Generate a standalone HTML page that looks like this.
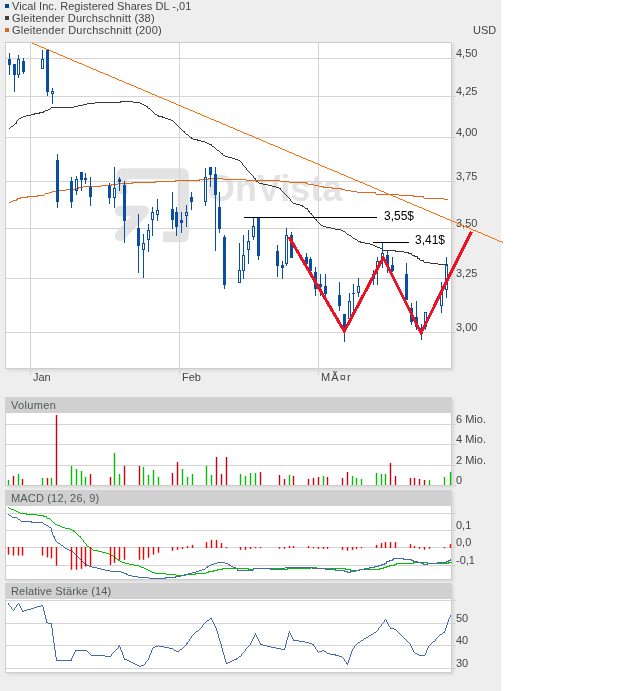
<!DOCTYPE html><html><head><meta charset="utf-8"><style>
html,body{margin:0;padding:0;background:#fff;}
body{width:637px;height:691px;position:relative;overflow:hidden;font-family:"Liberation Sans",sans-serif;}
svg text{font-family:"Liberation Sans",sans-serif;}
</style></head><body>
<svg width="637" height="691" viewBox="0 0 637 691" style="position:absolute;left:0;top:0">
<defs><filter id="sh" x="-5%" y="-5%" width="115%" height="120%"><feGaussianBlur stdDeviation="1.5"/></filter></defs>
<rect x="0" y="0" width="501" height="691" fill="#eeeeee"/>
<g opacity="0.999">
<rect x="5" y="4" width="4" height="4" fill="#0047a0"/>
<rect x="5" y="16" width="4" height="4" fill="#404040"/>
<rect x="5" y="28" width="4" height="4" fill="#e0671a"/>
<g font-size="11" fill="#444">
<text x="12" y="10" letter-spacing="0.06">Vical Inc. Registered Shares DL -,01</text>
<text x="12" y="22" letter-spacing="0.185">Gleitender Durchschnitt (38)</text>
<text x="12" y="34" letter-spacing="0.214">Gleitender Durchschnitt (200)</text>
<text x="473" y="34">USD</text>
</g>
<rect x="7" y="44" width="447" height="327" fill="#000" opacity="0.085" filter="url(#sh)"/>
<rect x="5.5" y="42.5" width="446" height="326" fill="#fff" stroke="#cccccc" stroke-width="1"/>
<g fill="#e3e3e3">
<path d="M116.3,194.4 L116.3,175.3 Q116.3,168.3 123.3,168.3 L181.8,168.3 Q188.8,168.3 188.8,175.3 L188.8,235.3 Q188.8,242.3 181.8,242.3 L163,242.3 L163,231.4 L177.5,231.4 L177.5,179.3 L127.3,179.3 L127.3,194.4 Z"/>
<polyline points="120.3,211 143.5,211 120.3,235.8" fill="none" stroke="#e3e3e3" stroke-width="11" stroke-linecap="round" stroke-linejoin="round"/>
<text x="207" y="201" font-size="36" font-weight="bold">OnVista</text>
</g>
<g stroke="#d4d4d4" stroke-width="1" shape-rendering="crispEdges">
<line x1="6" y1="58.5" x2="456" y2="58.5"/>
<line x1="6" y1="96.5" x2="456" y2="96.5"/>
<line x1="6" y1="137.5" x2="456" y2="137.5"/>
<line x1="6" y1="181.5" x2="456" y2="181.5"/>
<line x1="6" y1="228.5" x2="456" y2="228.5"/>
<line x1="6" y1="278.5" x2="456" y2="278.5"/>
<line x1="6" y1="332.5" x2="456" y2="332.5"/>
<line x1="30.5" y1="43" x2="30.5" y2="375"/>
<line x1="179.5" y1="43" x2="179.5" y2="375"/>
<line x1="318.5" y1="43" x2="318.5" y2="375"/>
</g>
<g font-size="11" fill="#444">
<text x="456" y="57">4,50</text>
<text x="456" y="95">4,25</text>
<text x="456" y="136">4,00</text>
<text x="456" y="180">3,75</text>
<text x="456" y="227">3,50</text>
<text x="456" y="277">3,25</text>
<text x="456" y="331">3,00</text>
<text x="33" y="381">Jan</text><text x="182" y="381">Feb</text><text x="321" y="381" letter-spacing="1.1">MÃ¤r</text>
</g>
<path d="M120 101h13v1h-13zM95 102h26v1h-26zM133 102h7v1h-7zM87 103h8v1h-8zM140 103h2v1h-2zM83 104h4v1h-4zM142 104h2v1h-2zM78 105h5v1h-5zM144 105h2v1h-2zM74 106h4v1h-4zM146 106h2v1h-2zM51 107h23v1h-23zM147 107h1v1h-1zM50 108h1v1h-1zM148 108h2v1h-2zM48 109h2v1h-2zM150 109h1v1h-1zM45 110h3v1h-3zM151 110h1v1h-1zM43 111h2v1h-2zM152 111h1v1h-1zM39 112h5v1h-5zM153 112h1v1h-1zM34 113h6v1h-6zM154 113h1v1h-1zM31 114h4v1h-4zM155 114h2v1h-2zM26 115h5v1h-5zM157 115h2v1h-2zM23 116h3v1h-3zM158 116h5v1h-5zM21 117h2v1h-2zM162 117h3v1h-3zM19 118h2v1h-2zM165 118h3v1h-3zM18 119h1v1h-1zM168 119h3v1h-3zM17 120h1v1h-1zM171 120h2v1h-2zM16 121h1v1h-1zM173 121h1v1h-1zM16 122h1v1h-1zM174 122h1v1h-1zM15 123h2v1h-2zM175 123h1v1h-1zM14 124h1v1h-1zM176 124h1v1h-1zM13 125h1v1h-1zM177 125h1v1h-1zM11 126h2v1h-2zM178 126h1v1h-1zM10 127h1v1h-1zM179 127h1v1h-1zM9 128h1v1h-1zM180 128h1v1h-1zM181 129h1v1h-1zM182 130h1v1h-1zM183 131h2v1h-2zM184 132h1v1h-1zM185 133h1v1h-1zM186 134h2v1h-2zM188 135h1v1h-1zM189 136h1v1h-1zM190 137h2v1h-2zM191 138h2v1h-2zM193 139h5v1h-5zM197 140h4v1h-4zM201 141h4v1h-4zM205 142h2v1h-2zM207 143h2v1h-2zM209 144h3v1h-3zM211 145h1v1h-1zM212 146h2v1h-2zM214 147h1v1h-1zM215 148h1v1h-1zM216 149h1v1h-1zM217 150h2v1h-2zM219 151h1v1h-1zM220 152h1v1h-1zM221 153h2v1h-2zM222 154h1v1h-1zM223 155h2v1h-2zM225 156h3v1h-3zM228 157h4v1h-4zM232 158h3v1h-3zM235 159h3v1h-3zM238 160h2v1h-2zM240 161h1v1h-1zM241 162h1v1h-1zM242 163h1v1h-1zM242 164h1v1h-1zM243 165h1v1h-1zM244 166h1v1h-1zM245 167h1v1h-1zM246 168h1v1h-1zM246 169h1v1h-1zM247 170h1v1h-1zM248 171h1v1h-1zM249 172h1v1h-1zM250 173h1v1h-1zM251 174h1v1h-1zM252 175h1v1h-1zM253 176h1v1h-1zM253 177h1v1h-1zM254 178h2v1h-2zM255 179h1v1h-1zM256 180h1v1h-1zM256 181h2v1h-2zM258 182h1v1h-1zM259 183h4v1h-4zM263 184h5v1h-5zM268 185h4v1h-4zM272 186h4v1h-4zM276 187h3v1h-3zM279 188h2v1h-2zM280 189h1v1h-1zM281 190h1v1h-1zM282 191h1v1h-1zM283 192h1v1h-1zM284 193h1v1h-1zM285 194h1v1h-1zM286 195h1v1h-1zM287 196h1v1h-1zM288 197h1v1h-1zM289 198h1v1h-1zM290 199h1v1h-1zM290 200h1v1h-1zM291 201h1v1h-1zM292 202h1v1h-1zM293 203h3v1h-3zM296 204h4v1h-4zM300 205h3v1h-3zM302 206h2v1h-2zM304 207h1v1h-1zM305 208h3v1h-3zM307 209h1v1h-1zM308 210h1v1h-1zM308 211h2v1h-2zM309 212h1v1h-1zM310 213h2v1h-2zM311 214h1v1h-1zM312 215h1v1h-1zM313 216h1v1h-1zM314 217h1v1h-1zM314 218h1v1h-1zM315 219h2v1h-2zM316 220h1v1h-1zM317 221h1v1h-1zM318 222h1v1h-1zM319 223h1v1h-1zM320 224h1v1h-1zM321 225h2v1h-2zM323 226h3v1h-3zM326 227h5v1h-5zM331 228h4v1h-4zM335 229h6v1h-6zM341 230h2v1h-2zM343 231h2v1h-2zM345 232h1v1h-1zM346 233h1v1h-1zM347 234h2v1h-2zM349 235h2v1h-2zM351 236h1v1h-1zM352 237h1v1h-1zM353 238h2v1h-2zM355 239h2v1h-2zM357 240h1v1h-1zM358 241h3v1h-3zM360 242h5v1h-5zM365 243h5v1h-5zM370 244h3v1h-3zM373 245h2v1h-2zM375 246h2v1h-2zM377 247h3v1h-3zM380 248h2v1h-2zM382 249h1v1h-1zM383 250h13v1h-13zM395 251h9v1h-9zM404 252h5v1h-5zM408 253h4v1h-4zM411 254h1v1h-1zM412 255h3v1h-3zM414 256h4v1h-4zM417 257h1v1h-1zM417 258h3v1h-3zM419 259h1v1h-1zM420 260h4v1h-4zM423 261h1v1h-1zM424 262h6v1h-6zM430 263h8v1h-8zM438 264h7v1h-7zM445 265h3v1h-3z" fill="#383838"/>
<path d="M208 178h15v1h-15zM199 179h10v1h-10zM223 179h23v1h-23zM175 180h25v1h-25zM246 180h34v1h-34zM155 181h21v1h-21zM280 181h9v1h-9zM132 182h24v1h-24zM289 182h18v1h-18zM118 183h15v1h-15zM306 183h2v1h-2zM111 184h7v1h-7zM308 184h6v1h-6zM101 185h11v1h-11zM314 185h5v1h-5zM83 186h18v1h-18zM319 186h5v1h-5zM78 187h5v1h-5zM323 187h10v1h-10zM76 188h3v1h-3zM332 188h10v1h-10zM66 189h11v1h-11zM341 189h4v1h-4zM56 190h10v1h-10zM345 190h6v1h-6zM52 191h4v1h-4zM351 191h6v1h-6zM49 192h3v1h-3zM357 192h19v1h-19zM45 193h4v1h-4zM375 193h1v1h-1zM44 194h1v1h-1zM376 194h23v1h-23zM37 195h7v1h-7zM399 195h15v1h-15zM27 196h11v1h-11zM413 196h11v1h-11zM20 197h8v1h-8zM423 197h1v1h-1zM17 198h4v1h-4zM424 198h20v1h-20zM16 199h2v1h-2zM444 199h4v1h-4zM13 200h4v1h-4zM11 201h2v1h-2zM9 202h2v1h-2z" fill="#dd6a1c"/>
<g shape-rendering="crispEdges">
<path d="M9 53h1v6h-1zM9 65h1v10h-1zM8 59h3v6h-3zM14 75h1v17h-1zM13 64h3v11h-3zM18 55h1v4h-1zM18 75h1v3h-1zM17 59h3v1h-3zM17 74h3v1h-3zM17 60h1v14h-1zM19 60h1v14h-1zM23 58h1v3h-1zM23 72h1v2h-1zM22 61h3v11h-3zM42 50h1v9h-1zM41 59h3v1h-3zM41 68h3v1h-3zM41 60h1v8h-1zM43 60h1v8h-1zM47 92h1v4h-1zM46 50h3v42h-3zM52 88h1v3h-1zM52 94h1v10h-1zM51 91h3v1h-3zM51 93h3v1h-3zM51 92h1v1h-1zM53 92h1v1h-1zM57 154h1v6h-1zM57 202h1v6h-1zM56 160h3v42h-3zM71 177h1v4h-1zM71 202h1v6h-1zM70 181h3v21h-3zM76 176h1v3h-1zM76 191h1v4h-1zM75 179h3v1h-3zM75 190h3v1h-3zM75 180h1v10h-1zM77 180h1v10h-1zM81 180h1v11h-1zM80 172h3v8h-3zM85 173h1v5h-1zM85 180h1v4h-1zM84 178h3v2h-3zM90 177h1v10h-1zM90 197h1v9h-1zM89 187h3v10h-3zM109 183h1v3h-1zM109 198h1v6h-1zM108 186h3v12h-3zM114 167h1v21h-1zM114 198h1v10h-1zM113 188h3v1h-3zM113 197h3v1h-3zM113 189h1v8h-1zM115 189h1v8h-1zM119 177h1v2h-1zM119 182h1v9h-1zM118 179h3v3h-3zM124 181h1v4h-1zM124 221h1v22h-1zM123 185h3v36h-3zM138 214h1v14h-1zM138 246h1v27h-1zM137 228h3v18h-3zM143 234h1v9h-1zM143 250h1v28h-1zM142 243h3v1h-3zM142 249h3v1h-3zM142 244h1v5h-1zM144 244h1v5h-1zM148 224h1v6h-1zM148 240h1v12h-1zM147 230h3v1h-3zM147 239h3v1h-3zM147 231h1v8h-1zM149 231h1v8h-1zM152 207h1v5h-1zM152 220h1v16h-1zM151 212h3v1h-3zM151 219h3v1h-3zM151 213h1v6h-1zM153 213h1v6h-1zM157 199h1v11h-1zM157 215h1v6h-1zM156 210h3v1h-3zM156 214h3v1h-3zM156 211h1v3h-1zM158 211h1v3h-1zM172 192h1v17h-1zM172 220h1v9h-1zM171 209h3v11h-3zM176 207h1v5h-1zM176 227h1v9h-1zM175 212h3v15h-3zM181 212h1v8h-1zM181 223h1v10h-1zM180 220h3v3h-3zM186 205h1v7h-1zM186 216h1v11h-1zM185 212h3v1h-3zM185 215h3v1h-3zM185 213h1v2h-1zM187 213h1v2h-1zM191 192h1v5h-1zM191 202h1v8h-1zM190 197h3v5h-3zM205 168h1v9h-1zM205 202h1v4h-1zM204 177h3v1h-3zM204 201h3v1h-3zM204 178h1v23h-1zM206 178h1v23h-1zM210 175h1v12h-1zM209 167h3v8h-3zM215 167h1v7h-1zM215 195h1v56h-1zM214 174h3v21h-3zM219 192h1v15h-1zM219 229h1v4h-1zM218 207h3v22h-3zM224 235h1v2h-1zM224 285h1v4h-1zM223 237h3v48h-3zM239 243h1v27h-1zM238 270h3v1h-3zM238 282h3v1h-3zM238 271h1v11h-1zM240 271h1v11h-1zM243 235h1v20h-1zM243 271h1v8h-1zM242 255h3v1h-3zM242 270h3v1h-3zM242 256h1v14h-1zM244 256h1v14h-1zM248 230h1v11h-1zM248 250h1v14h-1zM247 241h3v1h-3zM247 249h3v1h-3zM247 242h1v7h-1zM249 242h1v7h-1zM253 218h1v8h-1zM253 237h1v3h-1zM252 226h3v1h-3zM252 236h3v1h-3zM252 227h1v9h-1zM254 227h1v9h-1zM258 256h1v4h-1zM257 218h3v38h-3zM277 245h1v6h-1zM277 266h1v11h-1zM276 251h3v15h-3zM282 261h1v4h-1zM282 268h1v11h-1zM281 265h3v3h-3zM286 228h1v7h-1zM286 264h1v2h-1zM285 235h3v1h-3zM285 263h3v1h-3zM285 236h1v27h-1zM287 236h1v27h-1zM291 232h1v3h-1zM290 235h3v23h-3zM306 253h1v4h-1zM305 257h3v7h-3zM310 257h1v2h-1zM310 271h1v1h-1zM309 259h3v12h-3zM315 267h1v5h-1zM315 289h1v7h-1zM314 272h3v17h-3zM320 274h1v10h-1zM320 287h1v9h-1zM319 284h3v3h-3zM325 274h1v12h-1zM325 294h1v6h-1zM324 286h3v8h-3zM339 282h1v13h-1zM339 306h1v5h-1zM338 295h3v11h-3zM344 328h1v14h-1zM343 314h3v14h-3zM349 293h1v8h-1zM349 319h1v1h-1zM348 301h3v1h-3zM348 318h3v1h-3zM348 302h1v16h-1zM350 302h1v16h-1zM353 284h1v9h-1zM353 294h1v17h-1zM352 293h3v1h-3zM358 278h1v8h-1zM358 293h1v4h-1zM357 286h3v1h-3zM357 292h3v1h-3zM357 287h1v5h-1zM359 287h1v5h-1zM373 270h1v4h-1zM373 279h1v6h-1zM372 274h3v1h-3zM372 278h3v1h-3zM372 275h1v3h-1zM374 275h1v3h-1zM377 257h1v4h-1zM377 267h1v18h-1zM376 261h3v1h-3zM376 266h3v1h-3zM376 262h1v4h-1zM378 262h1v4h-1zM382 243h1v10h-1zM382 259h1v9h-1zM381 253h3v1h-3zM381 258h3v1h-3zM381 254h1v4h-1zM383 254h1v4h-1zM387 251h1v4h-1zM387 267h1v6h-1zM386 255h3v12h-3zM392 257h1v8h-1zM392 271h1v1h-1zM391 265h3v6h-3zM406 263h1v11h-1zM405 274h3v26h-3zM411 303h1v5h-1zM411 322h1v3h-1zM410 308h3v14h-3zM416 301h1v16h-1zM416 327h1v3h-1zM415 317h3v10h-3zM421 324h1v4h-1zM421 334h1v6h-1zM420 328h3v6h-3zM425 327h1v3h-1zM424 312h3v1h-3zM424 326h3v1h-3zM424 313h1v13h-1zM426 313h1v13h-1zM441 282h1v9h-1zM441 306h1v7h-1zM440 291h3v1h-3zM440 305h3v1h-3zM440 292h1v13h-1zM442 292h1v13h-1zM446 257h1v7h-1zM446 290h1v8h-1zM445 264h3v1h-3zM445 289h3v1h-3zM445 265h1v24h-1zM447 265h1v24h-1z" fill="#0a4ea2"/>
</g>
<line x1="244" y1="217.5" x2="377" y2="217.5" stroke="#000" stroke-width="1"/>
<line x1="373" y1="242.5" x2="409" y2="242.5" stroke="#000" stroke-width="1"/>
<g font-size="12" fill="#000"><text x="384" y="220">3,55$</text><text x="415" y="244">3,41$</text></g>
<path d="M32 43h2v1h-2zM34 44h3v1h-3zM37 45h2v1h-2zM39 46h2v1h-2zM41 47h3v1h-3zM44 48h2v1h-2zM46 49h3v1h-3zM49 50h2v1h-2zM51 51h2v1h-2zM53 52h3v1h-3zM56 53h2v1h-2zM58 54h2v1h-2zM60 55h3v1h-3zM63 56h2v1h-2zM65 57h2v1h-2zM67 58h3v1h-3zM70 59h2v1h-2zM72 60h2v1h-2zM74 61h3v1h-3zM77 62h2v1h-2zM79 63h3v1h-3zM82 64h2v1h-2zM84 65h2v1h-2zM86 66h3v1h-3zM89 67h2v1h-2zM91 68h2v1h-2zM93 69h3v1h-3zM96 70h2v1h-2zM98 71h2v1h-2zM100 72h3v1h-3zM103 73h2v1h-2zM105 74h3v1h-3zM108 75h2v1h-2zM110 76h2v1h-2zM112 77h3v1h-3zM115 78h2v1h-2zM117 79h2v1h-2zM119 80h3v1h-3zM122 81h2v1h-2zM124 82h2v1h-2zM126 83h3v1h-3zM129 84h2v1h-2zM131 85h3v1h-3zM134 86h2v1h-2zM136 87h2v1h-2zM138 88h3v1h-3zM141 89h2v1h-2zM143 90h2v1h-2zM145 91h3v1h-3zM148 92h2v1h-2zM150 93h2v1h-2zM152 94h3v1h-3zM155 95h2v1h-2zM157 96h2v1h-2zM159 97h3v1h-3zM162 98h2v1h-2zM164 99h3v1h-3zM167 100h2v1h-2zM169 101h2v1h-2zM171 102h3v1h-3zM174 103h2v1h-2zM176 104h2v1h-2zM178 105h3v1h-3zM181 106h2v1h-2zM183 107h2v1h-2zM185 108h3v1h-3zM188 109h2v1h-2zM190 110h3v1h-3zM193 111h2v1h-2zM195 112h2v1h-2zM197 113h3v1h-3zM200 114h2v1h-2zM202 115h2v1h-2zM204 116h3v1h-3zM207 117h2v1h-2zM209 118h2v1h-2zM211 119h3v1h-3zM214 120h2v1h-2zM216 121h3v1h-3zM219 122h2v1h-2zM221 123h2v1h-2zM223 124h3v1h-3zM226 125h2v1h-2zM228 126h2v1h-2zM230 127h3v1h-3zM233 128h2v1h-2zM235 129h2v1h-2zM237 130h3v1h-3zM240 131h2v1h-2zM242 132h2v1h-2zM244 133h3v1h-3zM247 134h2v1h-2zM249 135h3v1h-3zM252 136h2v1h-2zM254 137h2v1h-2zM256 138h3v1h-3zM259 139h2v1h-2zM261 140h2v1h-2zM263 141h3v1h-3zM266 142h2v1h-2zM268 143h2v1h-2zM270 144h3v1h-3zM273 145h2v1h-2zM275 146h3v1h-3zM278 147h2v1h-2zM280 148h2v1h-2zM282 149h3v1h-3zM285 150h2v1h-2zM287 151h2v1h-2zM289 152h3v1h-3zM292 153h2v1h-2zM294 154h2v1h-2zM296 155h3v1h-3zM299 156h2v1h-2zM301 157h2v1h-2zM303 158h3v1h-3zM306 159h2v1h-2zM308 160h3v1h-3zM311 161h2v1h-2zM313 162h2v1h-2zM315 163h3v1h-3zM318 164h2v1h-2zM320 165h2v1h-2zM322 166h3v1h-3zM325 167h2v1h-2zM327 168h2v1h-2zM329 169h3v1h-3zM332 170h2v1h-2zM334 171h3v1h-3zM337 172h2v1h-2zM339 173h2v1h-2zM341 174h3v1h-3zM344 175h2v1h-2zM346 176h2v1h-2zM348 177h3v1h-3zM351 178h2v1h-2zM353 179h2v1h-2zM355 180h3v1h-3zM358 181h2v1h-2zM360 182h3v1h-3zM363 183h2v1h-2zM365 184h2v1h-2zM367 185h3v1h-3zM370 186h2v1h-2zM372 187h2v1h-2zM374 188h3v1h-3zM377 189h2v1h-2zM379 190h2v1h-2zM381 191h3v1h-3zM384 192h2v1h-2zM386 193h2v1h-2zM388 194h3v1h-3zM391 195h2v1h-2zM393 196h3v1h-3zM396 197h2v1h-2zM398 198h2v1h-2zM400 199h3v1h-3zM403 200h2v1h-2zM405 201h2v1h-2zM407 202h3v1h-3zM410 203h2v1h-2zM412 204h2v1h-2zM414 205h3v1h-3zM417 206h2v1h-2zM419 207h3v1h-3zM422 208h2v1h-2zM424 209h2v1h-2zM426 210h3v1h-3zM429 211h2v1h-2zM431 212h2v1h-2zM433 213h3v1h-3zM436 214h2v1h-2zM438 215h2v1h-2zM440 216h3v1h-3zM443 217h2v1h-2zM445 218h2v1h-2zM447 219h3v1h-3zM450 220h2v1h-2zM452 221h3v1h-3zM455 222h2v1h-2zM457 223h2v1h-2zM459 224h3v1h-3zM462 225h2v1h-2zM464 226h2v1h-2zM466 227h3v1h-3zM469 228h2v1h-2zM471 229h2v1h-2zM473 230h3v1h-3zM476 231h2v1h-2zM478 232h3v1h-3zM481 233h2v1h-2zM483 234h2v1h-2zM485 235h3v1h-3zM488 236h2v1h-2zM490 237h2v1h-2zM492 238h3v1h-3zM495 239h2v1h-2zM497 240h2v1h-2zM499 241h3v1h-3zM502 242h1v1h-1z" fill="#ff6c0a"/>
<polyline points="289,237 344.3,331.2 383.3,257.5 421,333 471.3,231.9" fill="none" stroke="#ee1122" stroke-width="3" stroke-linejoin="miter" shape-rendering="crispEdges"/>
<rect x="7" y="399" width="447" height="89" fill="#000" opacity="0.085" filter="url(#sh)"/>
<rect x="5.5" y="412.5" width="446" height="73" fill="#fff" stroke="#cccccc" stroke-width="1"/>
<rect x="5" y="397" width="447" height="16" fill="#d0d0d0"/>
<text x="11" y="409" font-size="11" fill="#505858" letter-spacing="0.33">Volumen</text>
<g stroke="#d4d4d4" stroke-width="1" shape-rendering="crispEdges">
<line x1="6" y1="424.5" x2="456" y2="424.5"/>
<line x1="6" y1="444.5" x2="456" y2="444.5"/>
<line x1="6" y1="465.5" x2="456" y2="465.5"/>
<line x1="452" y1="485.5" x2="456" y2="485.5"/>
</g>
<g font-size="11" fill="#444">
<text x="456" y="423">6 Mio.</text>
<text x="456" y="443">4 Mio.</text>
<text x="456" y="464">2 Mio.</text>
<text x="456" y="484">0</text>
</g>
<rect x="7.8" y="480" width="1.4" height="5" fill="#00c000"/>
<rect x="12.8" y="476" width="1.4" height="9" fill="#c80014"/>
<rect x="17.8" y="474" width="1.4" height="11" fill="#00c000"/>
<rect x="21.8" y="479" width="1.4" height="6" fill="#c80014"/>
<rect x="41.8" y="478" width="1.4" height="7" fill="#00c000"/>
<rect x="46.8" y="478" width="1.4" height="7" fill="#c80014"/>
<rect x="50.8" y="478" width="1.4" height="7" fill="#00c000"/>
<rect x="55.8" y="415" width="1.4" height="70" fill="#c80014"/>
<rect x="70.8" y="466" width="1.4" height="19" fill="#00c000"/>
<rect x="75.8" y="469" width="1.4" height="16" fill="#00c000"/>
<rect x="80.8" y="471" width="1.4" height="14" fill="#00c000"/>
<rect x="84.8" y="477" width="1.4" height="8" fill="#00c000"/>
<rect x="89.8" y="474" width="1.4" height="11" fill="#c80014"/>
<rect x="109.8" y="477" width="1.4" height="8" fill="#c80014"/>
<rect x="113.8" y="453" width="1.4" height="32" fill="#00c000"/>
<rect x="118.8" y="474" width="1.4" height="11" fill="#00c000"/>
<rect x="123.8" y="466" width="1.4" height="19" fill="#c80014"/>
<rect x="138.8" y="466" width="1.4" height="19" fill="#c80014"/>
<rect x="142.8" y="467" width="1.4" height="18" fill="#00c000"/>
<rect x="147.8" y="475" width="1.4" height="10" fill="#00c000"/>
<rect x="152.8" y="470" width="1.4" height="15" fill="#00c000"/>
<rect x="157.8" y="477" width="1.4" height="8" fill="#00c000"/>
<rect x="171.8" y="473" width="1.4" height="12" fill="#c80014"/>
<rect x="176.8" y="462" width="1.4" height="23" fill="#c80014"/>
<rect x="181.8" y="469" width="1.4" height="16" fill="#00c000"/>
<rect x="186.8" y="477" width="1.4" height="8" fill="#00c000"/>
<rect x="191.8" y="474" width="1.4" height="11" fill="#00c000"/>
<rect x="205.8" y="466" width="1.4" height="19" fill="#00c000"/>
<rect x="210.8" y="475" width="1.4" height="10" fill="#00c000"/>
<rect x="215.8" y="457" width="1.4" height="28" fill="#c80014"/>
<rect x="220.8" y="474" width="1.4" height="11" fill="#c80014"/>
<rect x="225.8" y="457" width="1.4" height="28" fill="#c80014"/>
<rect x="239.8" y="474" width="1.4" height="11" fill="#00c000"/>
<rect x="244.8" y="476" width="1.4" height="9" fill="#00c000"/>
<rect x="249.8" y="473" width="1.4" height="12" fill="#00c000"/>
<rect x="254.8" y="473" width="1.4" height="12" fill="#00c000"/>
<rect x="259.8" y="472" width="1.4" height="13" fill="#c80014"/>
<rect x="278.8" y="475" width="1.4" height="10" fill="#c80014"/>
<rect x="283.8" y="479" width="1.4" height="6" fill="#c80014"/>
<rect x="288.8" y="475" width="1.4" height="10" fill="#00c000"/>
<rect x="292.8" y="476" width="1.4" height="9" fill="#c80014"/>
<rect x="307.8" y="479" width="1.4" height="6" fill="#c80014"/>
<rect x="312.8" y="478" width="1.4" height="7" fill="#c80014"/>
<rect x="317.8" y="477" width="1.4" height="8" fill="#c80014"/>
<rect x="322.8" y="476" width="1.4" height="9" fill="#00c000"/>
<rect x="326.8" y="477" width="1.4" height="8" fill="#c80014"/>
<rect x="341.8" y="478" width="1.4" height="7" fill="#c80014"/>
<rect x="346.8" y="472" width="1.4" height="13" fill="#c80014"/>
<rect x="351.8" y="476" width="1.4" height="9" fill="#00c000"/>
<rect x="355.8" y="478" width="1.4" height="7" fill="#00c000"/>
<rect x="360.8" y="479" width="1.4" height="6" fill="#00c000"/>
<rect x="375.8" y="473" width="1.4" height="12" fill="#00c000"/>
<rect x="380.8" y="474" width="1.4" height="11" fill="#00c000"/>
<rect x="384.8" y="474" width="1.4" height="11" fill="#00c000"/>
<rect x="389.8" y="463" width="1.4" height="22" fill="#c80014"/>
<rect x="394.8" y="476" width="1.4" height="9" fill="#c80014"/>
<rect x="409.8" y="478" width="1.4" height="7" fill="#c80014"/>
<rect x="413.8" y="478" width="1.4" height="7" fill="#c80014"/>
<rect x="418.8" y="479" width="1.4" height="6" fill="#c80014"/>
<rect x="423.8" y="480" width="1.4" height="5" fill="#c80014"/>
<rect x="428.8" y="480" width="1.4" height="5" fill="#00c000"/>
<rect x="443.8" y="477" width="1.4" height="8" fill="#00c000"/>
<rect x="449.8" y="472" width="1.4" height="13" fill="#00c000"/>
<rect x="7" y="492" width="447" height="90" fill="#000" opacity="0.085" filter="url(#sh)"/>
<rect x="5.5" y="505.5" width="446" height="74" fill="#fff" stroke="#cccccc" stroke-width="1"/>
<rect x="5" y="490" width="447" height="16" fill="#d0d0d0"/>
<text x="11" y="502" font-size="11" fill="#505858" letter-spacing="0.167">MACD (12, 26, 9)</text>
<g stroke="#d4d4d4" stroke-width="1" shape-rendering="crispEdges">
<line x1="6" y1="513.5" x2="456" y2="513.5"/>
<line x1="6" y1="530.5" x2="456" y2="530.5"/>
<line x1="6" y1="547.5" x2="456" y2="547.5"/>
<line x1="6" y1="565.5" x2="456" y2="565.5"/>
</g>
<g font-size="11" fill="#444">
<text x="456" y="529">0,1</text>
<text x="456" y="546">0,0</text>
<text x="456" y="564">-0,1</text>
</g>
<path d="M8 507h1v1h-1zM9 508h2v1h-2zM11 509h3v1h-3zM14 510h2v1h-2zM16 511h2v1h-2zM18 512h2v1h-2zM20 513h7v1h-7zM26 514h11v1h-11zM37 515h7v1h-7zM43 516h4v1h-4zM46 517h1v1h-1zM47 518h3v1h-3zM50 519h1v1h-1zM51 520h1v1h-1zM52 521h1v1h-1zM53 522h1v1h-1zM54 523h1v1h-1zM55 524h2v1h-2zM57 525h3v1h-3zM60 526h2v1h-2zM62 527h3v1h-3zM65 528h5v1h-5zM70 529h2v1h-2zM72 530h2v1h-2zM73 531h2v1h-2zM75 532h1v1h-1zM76 533h1v1h-1zM77 534h1v1h-1zM78 535h1v1h-1zM79 536h2v1h-2zM80 537h1v1h-1zM81 538h1v1h-1zM82 539h1v1h-1zM83 540h1v1h-1zM83 541h1v1h-1zM84 542h1v1h-1zM85 543h1v1h-1zM86 544h1v1h-1zM86 545h1v1h-1zM87 546h2v1h-2zM89 547h1v1h-1zM90 548h2v1h-2zM92 549h1v1h-1zM93 550h5v1h-5zM98 551h4v1h-4zM102 552h4v1h-4zM106 553h3v1h-3zM109 554h2v1h-2zM111 555h2v1h-2zM113 556h1v1h-1zM114 557h2v1h-2zM115 558h2v1h-2zM117 559h2v1h-2zM118 560h2v1h-2zM120 561h2v1h-2zM122 562h3v1h-3zM413 562h15v1h-15zM448 562h4v1h-4zM125 563h4v1h-4zM396 563h18v1h-18zM427 563h22v1h-22zM129 564h5v1h-5zM394 564h3v1h-3zM134 565h5v1h-5zM389 565h6v1h-6zM139 566h2v1h-2zM386 566h4v1h-4zM141 567h3v1h-3zM310 567h7v1h-7zM383 567h4v1h-4zM144 568h2v1h-2zM222 568h27v1h-27zM253 568h30v1h-30zM287 568h24v1h-24zM316 568h30v1h-30zM379 568h5v1h-5zM146 569h2v1h-2zM217 569h6v1h-6zM248 569h6v1h-6zM282 569h6v1h-6zM345 569h6v1h-6zM359 569h21v1h-21zM148 570h2v1h-2zM213 570h5v1h-5zM350 570h10v1h-10zM150 571h2v1h-2zM208 571h6v1h-6zM152 572h3v1h-3zM206 572h3v1h-3zM155 573h11v1h-11zM195 573h11v1h-11zM166 574h10v1h-10zM186 574h10v1h-10zM176 575h10v1h-10z" fill="#00c000"/>
<path d="M8 514h1v1h-1zM9 515h2v1h-2zM11 516h1v1h-1zM12 517h5v1h-5zM17 518h1v1h-1zM18 519h2v1h-2zM20 520h1v1h-1zM21 521h11v1h-11zM31 522h12v1h-12zM43 523h1v1h-1zM44 524h2v1h-2zM46 525h2v1h-2zM48 526h1v1h-1zM49 527h2v1h-2zM51 528h1v1h-1zM51 529h1v1h-1zM51 530h1v1h-1zM51 531h1v1h-1zM52 532h1v1h-1zM52 533h1v1h-1zM52 534h1v1h-1zM53 535h1v1h-1zM53 536h2v1h-2zM54 537h1v1h-1zM54 538h1v1h-1zM55 539h1v1h-1zM55 540h1v1h-1zM56 541h1v1h-1zM57 542h1v1h-1zM58 543h2v1h-2zM60 544h1v1h-1zM61 545h2v1h-2zM63 546h1v1h-1zM64 547h1v1h-1zM65 548h2v1h-2zM67 549h2v1h-2zM69 550h3v1h-3zM71 551h2v1h-2zM73 552h1v1h-1zM74 553h1v1h-1zM75 554h1v1h-1zM76 555h1v1h-1zM77 556h1v1h-1zM78 557h1v1h-1zM79 558h1v1h-1zM393 558h11v1h-11zM80 559h1v1h-1zM392 559h2v1h-2zM403 559h9v1h-9zM450 559h1v1h-1zM81 560h1v1h-1zM389 560h4v1h-4zM411 560h3v1h-3zM448 560h3v1h-3zM82 561h1v1h-1zM386 561h4v1h-4zM413 561h5v1h-5zM446 561h3v1h-3zM83 562h1v1h-1zM217 562h8v1h-8zM386 562h1v1h-1zM417 562h5v1h-5zM437 562h10v1h-10zM84 563h1v1h-1zM214 563h3v1h-3zM225 563h3v1h-3zM384 563h3v1h-3zM421 563h3v1h-3zM427 563h11v1h-11zM85 564h2v1h-2zM211 564h3v1h-3zM228 564h2v1h-2zM381 564h4v1h-4zM423 564h5v1h-5zM86 565h3v1h-3zM209 565h2v1h-2zM229 565h2v1h-2zM378 565h4v1h-4zM89 566h3v1h-3zM207 566h2v1h-2zM231 566h2v1h-2zM374 566h5v1h-5zM92 567h5v1h-5zM206 567h2v1h-2zM233 567h3v1h-3zM285 567h27v1h-27zM369 567h6v1h-6zM97 568h4v1h-4zM205 568h1v1h-1zM236 568h1v1h-1zM253 568h18v1h-18zM281 568h4v1h-4zM312 568h14v1h-14zM364 568h6v1h-6zM101 569h4v1h-4zM202 569h3v1h-3zM237 569h1v1h-1zM253 569h1v1h-1zM270 569h12v1h-12zM325 569h11v1h-11zM359 569h6v1h-6zM105 570h5v1h-5zM199 570h3v1h-3zM237 570h16v1h-16zM335 570h10v1h-10zM355 570h5v1h-5zM110 571h11v1h-11zM196 571h3v1h-3zM344 571h4v1h-4zM350 571h6v1h-6zM121 572h3v1h-3zM192 572h4v1h-4zM347 572h4v1h-4zM124 573h3v1h-3zM188 573h4v1h-4zM126 574h2v1h-2zM184 574h4v1h-4zM128 575h4v1h-4zM181 575h3v1h-3zM132 576h6v1h-6zM175 576h6v1h-6zM138 577h11v1h-11zM165 577h11v1h-11zM149 578h17v1h-17z" fill="#4669ad"/>
<rect x="7.8" y="547" width="1.4" height="7.6" fill="#f00000"/>
<rect x="12.8" y="547" width="1.4" height="8.6" fill="#f00000"/>
<rect x="17.8" y="547" width="1.4" height="8.6" fill="#f00000"/>
<rect x="21.8" y="547" width="1.4" height="8.6" fill="#f00000"/>
<rect x="41.8" y="547" width="1.4" height="8.6" fill="#f00000"/>
<rect x="46.8" y="547" width="1.4" height="10.4" fill="#f00000"/>
<rect x="50.8" y="547" width="1.4" height="11.4" fill="#f00000"/>
<rect x="55.8" y="547" width="1.4" height="18.8" fill="#f00000"/>
<rect x="70.8" y="547" width="1.4" height="22.7" fill="#f00000"/>
<rect x="75.8" y="547" width="1.4" height="22.7" fill="#f00000"/>
<rect x="80.8" y="547" width="1.4" height="21.8" fill="#f00000"/>
<rect x="84.8" y="547" width="1.4" height="19.6" fill="#f00000"/>
<rect x="89.8" y="547" width="1.4" height="18.8" fill="#f00000"/>
<rect x="109.8" y="547" width="1.4" height="18" fill="#f00000"/>
<rect x="113.8" y="547" width="1.4" height="15.8" fill="#f00000"/>
<rect x="118.8" y="547" width="1.4" height="12.8" fill="#f00000"/>
<rect x="123.8" y="547" width="1.4" height="12.8" fill="#f00000"/>
<rect x="138.8" y="547" width="1.4" height="12.8" fill="#f00000"/>
<rect x="142.8" y="547" width="1.4" height="12.8" fill="#f00000"/>
<rect x="147.8" y="547" width="1.4" height="10.7" fill="#f00000"/>
<rect x="152.8" y="547" width="1.4" height="7.7" fill="#f00000"/>
<rect x="157.8" y="547" width="1.4" height="5.7" fill="#f00000"/>
<rect x="171.8" y="547" width="1.4" height="3.8" fill="#f00000"/>
<rect x="176.8" y="547" width="1.4" height="2.9" fill="#f00000"/>
<rect x="181.8" y="547" width="1.4" height="1.9" fill="#f00000"/>
<rect x="186.8" y="546.1" width="1.4" height="1.9" fill="#f00000"/>
<rect x="191.8" y="544.9" width="1.4" height="3.1" fill="#f00000"/>
<rect x="205.8" y="542.1" width="1.4" height="5.9" fill="#f00000"/>
<rect x="210.8" y="539.9" width="1.4" height="8.1" fill="#f00000"/>
<rect x="215.8" y="539.9" width="1.4" height="8.1" fill="#f00000"/>
<rect x="220.8" y="543" width="1.4" height="5" fill="#f00000"/>
<rect x="225.8" y="547" width="1.4" height="1.2" fill="#f00000"/>
<rect x="239.8" y="547" width="1.4" height="2.9" fill="#f00000"/>
<rect x="244.8" y="547" width="1.4" height="2.9" fill="#f00000"/>
<rect x="249.8" y="547" width="1.4" height="1.9" fill="#f00000"/>
<rect x="254.8" y="547" width="1.4" height="1.2" fill="#f00000"/>
<rect x="259.8" y="547" width="1.4" height="1.2" fill="#f00000"/>
<rect x="278.8" y="547" width="1.4" height="1.7" fill="#f00000"/>
<rect x="283.8" y="547" width="1.4" height="1.7" fill="#f00000"/>
<rect x="288.8" y="546.1" width="1.4" height="1.9" fill="#f00000"/>
<rect x="292.8" y="546.1" width="1.4" height="1.9" fill="#f00000"/>
<rect x="307.8" y="546.1" width="1.4" height="1.9" fill="#f00000"/>
<rect x="312.8" y="547" width="1.4" height="1.2" fill="#f00000"/>
<rect x="317.8" y="547" width="1.4" height="1.9" fill="#f00000"/>
<rect x="322.8" y="547" width="1.4" height="1.9" fill="#f00000"/>
<rect x="326.8" y="547" width="1.4" height="1.9" fill="#f00000"/>
<rect x="341.8" y="547" width="1.4" height="2.9" fill="#f00000"/>
<rect x="346.8" y="547" width="1.4" height="3.8" fill="#f00000"/>
<rect x="351.8" y="547" width="1.4" height="2.9" fill="#f00000"/>
<rect x="355.8" y="547" width="1.4" height="1.9" fill="#f00000"/>
<rect x="360.8" y="547" width="1.4" height="1.2" fill="#f00000"/>
<rect x="375.8" y="544.9" width="1.4" height="3.1" fill="#f00000"/>
<rect x="380.8" y="543" width="1.4" height="5" fill="#f00000"/>
<rect x="384.8" y="542.1" width="1.4" height="5.9" fill="#f00000"/>
<rect x="389.8" y="542.1" width="1.4" height="5.9" fill="#f00000"/>
<rect x="394.8" y="542.1" width="1.4" height="5.9" fill="#f00000"/>
<rect x="409.8" y="544.1" width="1.4" height="3.9" fill="#f00000"/>
<rect x="413.8" y="546.1" width="1.4" height="1.9" fill="#f00000"/>
<rect x="418.8" y="547" width="1.4" height="1.7" fill="#f00000"/>
<rect x="423.8" y="547" width="1.4" height="2.8" fill="#f00000"/>
<rect x="428.8" y="547" width="1.4" height="1.7" fill="#f00000"/>
<rect x="443.8" y="547" width="1.4" height="1.2" fill="#f00000"/>
<rect x="449.8" y="544.1" width="1.4" height="3.9" fill="#f00000"/>
<rect x="7" y="585" width="447" height="90" fill="#000" opacity="0.085" filter="url(#sh)"/>
<rect x="5.5" y="598.5" width="446" height="74" fill="#fff" stroke="#cccccc" stroke-width="1"/>
<rect x="5" y="583" width="447" height="16" fill="#d0d0d0"/>
<text x="11" y="595" font-size="11" fill="#505858" letter-spacing="0.158">Relative Stärke (14)</text>
<g stroke="#d4d4d4" stroke-width="1" shape-rendering="crispEdges">
<line x1="6" y1="600.5" x2="456" y2="600.5"/>
<line x1="6" y1="623.5" x2="456" y2="623.5"/>
<line x1="6" y1="645.5" x2="456" y2="645.5"/>
<line x1="6" y1="668.5" x2="456" y2="668.5"/>
</g>
<g font-size="11" fill="#444">
<text x="456" y="622">50</text>
<text x="456" y="644">40</text>
<text x="456" y="667">30</text>
</g>
<path d="M8 603h1v1h-1zM18 603h1v1h-1zM8 604h1v1h-1zM17 604h1v1h-1zM19 604h1v1h-1zM9 605h1v1h-1zM16 605h1v1h-1zM19 605h1v1h-1zM41 605h2v1h-2zM10 606h1v1h-1zM16 606h1v1h-1zM20 606h1v1h-1zM37 606h4v1h-4zM42 606h1v1h-1zM11 607h1v1h-1zM15 607h1v1h-1zM20 607h1v1h-1zM34 607h3v1h-3zM43 607h1v1h-1zM11 608h1v1h-1zM14 608h1v1h-1zM21 608h1v1h-1zM31 608h3v1h-3zM43 608h1v1h-1zM12 609h1v1h-1zM14 609h1v1h-1zM21 609h1v1h-1zM27 609h4v1h-4zM43 609h1v1h-1zM13 610h1v1h-1zM22 610h1v1h-1zM24 610h3v1h-3zM43 610h1v1h-1zM22 611h2v1h-2zM44 611h1v1h-1zM44 612h1v1h-1zM44 613h1v1h-1zM44 614h1v1h-1zM45 615h1v1h-1zM450 615h1v1h-1zM45 616h1v1h-1zM450 616h1v1h-1zM45 617h1v1h-1zM449 617h1v1h-1zM45 618h1v1h-1zM210 618h2v1h-2zM449 618h1v1h-1zM46 619h1v1h-1zM209 619h1v1h-1zM211 619h1v1h-1zM385 619h1v1h-1zM448 619h1v1h-1zM46 620h1v1h-1zM207 620h2v1h-2zM212 620h1v1h-1zM384 620h1v1h-1zM386 620h1v1h-1zM448 620h1v1h-1zM46 621h1v1h-1zM206 621h1v1h-1zM212 621h1v1h-1zM384 621h1v1h-1zM386 621h1v1h-1zM448 621h1v1h-1zM46 622h2v1h-2zM205 622h1v1h-1zM213 622h1v1h-1zM383 622h1v1h-1zM387 622h1v1h-1zM447 622h1v1h-1zM48 623h4v1h-4zM204 623h1v1h-1zM213 623h1v1h-1zM382 623h1v1h-1zM387 623h1v1h-1zM447 623h1v1h-1zM51 624h1v1h-1zM203 624h1v1h-1zM214 624h1v1h-1zM381 624h1v1h-1zM388 624h1v1h-1zM447 624h1v1h-1zM51 625h1v1h-1zM202 625h1v1h-1zM214 625h1v1h-1zM381 625h1v1h-1zM388 625h1v1h-1zM446 625h1v1h-1zM51 626h1v1h-1zM202 626h1v1h-1zM215 626h1v1h-1zM380 626h1v1h-1zM389 626h1v1h-1zM446 626h1v1h-1zM51 627h1v1h-1zM201 627h1v1h-1zM215 627h1v1h-1zM379 627h1v1h-1zM390 627h1v1h-1zM446 627h1v1h-1zM52 628h1v1h-1zM200 628h1v1h-1zM216 628h1v1h-1zM378 628h1v1h-1zM390 628h4v1h-4zM445 628h1v1h-1zM52 629h1v1h-1zM199 629h1v1h-1zM216 629h1v1h-1zM378 629h1v1h-1zM394 629h2v1h-2zM445 629h1v1h-1zM52 630h1v1h-1zM198 630h1v1h-1zM216 630h1v1h-1zM377 630h1v1h-1zM396 630h1v1h-1zM445 630h1v1h-1zM52 631h1v1h-1zM196 631h2v1h-2zM217 631h1v1h-1zM289 631h1v1h-1zM376 631h1v1h-1zM397 631h1v1h-1zM444 631h1v1h-1zM52 632h1v1h-1zM195 632h1v1h-1zM217 632h1v1h-1zM289 632h1v1h-1zM374 632h2v1h-2zM398 632h1v1h-1zM443 632h2v1h-2zM52 633h1v1h-1zM194 633h1v1h-1zM217 633h1v1h-1zM255 633h1v1h-1zM288 633h1v1h-1zM290 633h1v1h-1zM373 633h1v1h-1zM399 633h1v1h-1zM442 633h1v1h-1zM52 634h1v1h-1zM193 634h1v1h-1zM218 634h1v1h-1zM255 634h1v1h-1zM288 634h1v1h-1zM290 634h1v1h-1zM371 634h2v1h-2zM400 634h1v1h-1zM440 634h2v1h-2zM52 635h1v1h-1zM192 635h1v1h-1zM218 635h1v1h-1zM254 635h1v1h-1zM256 635h1v1h-1zM288 635h1v1h-1zM291 635h1v1h-1zM369 635h2v1h-2zM401 635h1v1h-1zM439 635h1v1h-1zM53 636h1v1h-1zM191 636h1v1h-1zM218 636h1v1h-1zM254 636h1v1h-1zM256 636h1v1h-1zM288 636h1v1h-1zM291 636h1v1h-1zM368 636h1v1h-1zM402 636h1v1h-1zM438 636h1v1h-1zM53 637h1v1h-1zM191 637h1v1h-1zM218 637h1v1h-1zM253 637h1v1h-1zM257 637h1v1h-1zM287 637h1v1h-1zM292 637h1v1h-1zM366 637h2v1h-2zM403 637h1v1h-1zM437 637h1v1h-1zM53 638h1v1h-1zM190 638h1v1h-1zM219 638h1v1h-1zM253 638h1v1h-1zM257 638h1v1h-1zM287 638h1v1h-1zM292 638h1v1h-1zM364 638h2v1h-2zM404 638h1v1h-1zM436 638h1v1h-1zM53 639h1v1h-1zM189 639h1v1h-1zM219 639h1v1h-1zM252 639h1v1h-1zM258 639h1v1h-1zM287 639h1v1h-1zM293 639h1v1h-1zM363 639h1v1h-1zM405 639h1v1h-1zM435 639h1v1h-1zM53 640h1v1h-1zM189 640h1v1h-1zM219 640h1v1h-1zM252 640h1v1h-1zM258 640h1v1h-1zM286 640h1v1h-1zM293 640h6v1h-6zM361 640h2v1h-2zM406 640h1v1h-1zM435 640h1v1h-1zM53 641h1v1h-1zM188 641h1v1h-1zM220 641h1v1h-1zM251 641h1v1h-1zM259 641h1v1h-1zM286 641h1v1h-1zM299 641h6v1h-6zM360 641h1v1h-1zM407 641h1v1h-1zM433 641h2v1h-2zM53 642h1v1h-1zM187 642h1v1h-1zM220 642h1v1h-1zM251 642h1v1h-1zM259 642h1v1h-1zM286 642h1v1h-1zM305 642h4v1h-4zM358 642h2v1h-2zM408 642h1v1h-1zM432 642h1v1h-1zM54 643h1v1h-1zM186 643h2v1h-2zM220 643h1v1h-1zM250 643h1v1h-1zM260 643h1v1h-1zM286 643h1v1h-1zM309 643h3v1h-3zM357 643h1v1h-1zM409 643h1v1h-1zM431 643h1v1h-1zM54 644h1v1h-1zM186 644h1v1h-1zM221 644h1v1h-1zM250 644h1v1h-1zM260 644h3v1h-3zM285 644h1v1h-1zM312 644h2v1h-2zM356 644h1v1h-1zM410 644h1v1h-1zM430 644h1v1h-1zM54 645h1v1h-1zM119 645h1v1h-1zM158 645h1v1h-1zM185 645h1v1h-1zM221 645h1v1h-1zM249 645h1v1h-1zM263 645h4v1h-4zM285 645h1v1h-1zM313 645h1v1h-1zM355 645h1v1h-1zM410 645h1v1h-1zM429 645h1v1h-1zM54 646h1v1h-1zM118 646h2v1h-2zM155 646h3v1h-3zM159 646h5v1h-5zM184 646h1v1h-1zM221 646h1v1h-1zM248 646h1v1h-1zM267 646h4v1h-4zM285 646h1v1h-1zM314 646h1v1h-1zM354 646h1v1h-1zM411 646h1v1h-1zM428 646h1v1h-1zM54 647h1v1h-1zM118 647h1v1h-1zM120 647h1v1h-1zM153 647h2v1h-2zM164 647h5v1h-5zM183 647h1v1h-1zM221 647h1v1h-1zM247 647h1v1h-1zM271 647h5v1h-5zM285 647h1v1h-1zM315 647h1v1h-1zM354 647h1v1h-1zM411 647h1v1h-1zM428 647h1v1h-1zM54 648h1v1h-1zM117 648h1v1h-1zM120 648h1v1h-1zM152 648h1v1h-1zM169 648h4v1h-4zM182 648h1v1h-1zM222 648h1v1h-1zM246 648h1v1h-1zM276 648h5v1h-5zM284 648h1v1h-1zM315 648h1v1h-1zM353 648h1v1h-1zM412 648h1v1h-1zM427 648h1v1h-1zM54 649h1v1h-1zM116 649h1v1h-1zM120 649h1v1h-1zM152 649h1v1h-1zM173 649h1v1h-1zM180 649h2v1h-2zM222 649h1v1h-1zM245 649h1v1h-1zM281 649h4v1h-4zM316 649h1v1h-1zM352 649h1v1h-1zM412 649h1v1h-1zM427 649h1v1h-1zM55 650h1v1h-1zM75 650h12v1h-12zM115 650h1v1h-1zM121 650h1v1h-1zM151 650h1v1h-1zM174 650h2v1h-2zM179 650h1v1h-1zM222 650h1v1h-1zM245 650h1v1h-1zM317 650h1v1h-1zM322 650h2v1h-2zM352 650h1v1h-1zM413 650h1v1h-1zM426 650h1v1h-1zM55 651h1v1h-1zM75 651h1v1h-1zM87 651h1v1h-1zM114 651h1v1h-1zM121 651h1v1h-1zM151 651h1v1h-1zM176 651h3v1h-3zM222 651h1v1h-1zM244 651h1v1h-1zM317 651h1v1h-1zM319 651h3v1h-3zM324 651h2v1h-2zM351 651h1v1h-1zM413 651h1v1h-1zM426 651h1v1h-1zM55 652h1v1h-1zM74 652h1v1h-1zM88 652h1v1h-1zM113 652h1v1h-1zM122 652h1v1h-1zM151 652h1v1h-1zM223 652h1v1h-1zM243 652h1v1h-1zM318 652h1v1h-1zM326 652h1v1h-1zM351 652h1v1h-1zM414 652h1v1h-1zM426 652h1v1h-1zM55 653h1v1h-1zM74 653h1v1h-1zM89 653h1v1h-1zM112 653h1v1h-1zM122 653h1v1h-1zM150 653h1v1h-1zM223 653h1v1h-1zM242 653h1v1h-1zM327 653h3v1h-3zM351 653h1v1h-1zM415 653h2v1h-2zM425 653h1v1h-1zM55 654h1v1h-1zM73 654h1v1h-1zM90 654h1v1h-1zM111 654h1v1h-1zM122 654h1v1h-1zM150 654h1v1h-1zM223 654h1v1h-1zM241 654h1v1h-1zM330 654h6v1h-6zM350 654h1v1h-1zM417 654h2v1h-2zM425 654h1v1h-1zM55 655h1v1h-1zM73 655h1v1h-1zM91 655h14v1h-14zM111 655h1v1h-1zM123 655h1v1h-1zM149 655h1v1h-1zM224 655h1v1h-1zM241 655h1v1h-1zM335 655h4v1h-4zM350 655h1v1h-1zM419 655h6v1h-6zM55 656h1v1h-1zM72 656h1v1h-1zM105 656h6v1h-6zM123 656h1v1h-1zM149 656h1v1h-1zM224 656h1v1h-1zM239 656h2v1h-2zM339 656h3v1h-3zM350 656h1v1h-1zM56 657h1v1h-1zM72 657h1v1h-1zM123 657h1v1h-1zM149 657h1v1h-1zM224 657h1v1h-1zM238 657h1v1h-1zM342 657h1v1h-1zM349 657h1v1h-1zM56 658h1v1h-1zM71 658h1v1h-1zM124 658h1v1h-1zM148 658h1v1h-1zM224 658h1v1h-1zM236 658h2v1h-2zM343 658h1v1h-1zM349 658h1v1h-1zM56 659h1v1h-1zM71 659h1v1h-1zM124 659h3v1h-3zM148 659h1v1h-1zM225 659h1v1h-1zM234 659h3v1h-3zM344 659h1v1h-1zM349 659h1v1h-1zM56 660h16v1h-16zM127 660h2v1h-2zM147 660h1v1h-1zM225 660h1v1h-1zM232 660h2v1h-2zM344 660h1v1h-1zM348 660h1v1h-1zM129 661h2v1h-2zM146 661h1v1h-1zM225 661h1v1h-1zM230 661h2v1h-2zM345 661h1v1h-1zM348 661h1v1h-1zM131 662h2v1h-2zM145 662h1v1h-1zM226 662h1v1h-1zM228 662h2v1h-2zM346 662h1v1h-1zM348 662h1v1h-1zM133 663h2v1h-2zM145 663h1v1h-1zM226 663h2v1h-2zM346 663h2v1h-2zM135 664h2v1h-2zM144 664h1v1h-1zM347 664h1v1h-1zM137 665h2v1h-2zM141 665h3v1h-3zM139 666h2v1h-2z" fill="#4669ad"/>
</g></svg></body></html>
